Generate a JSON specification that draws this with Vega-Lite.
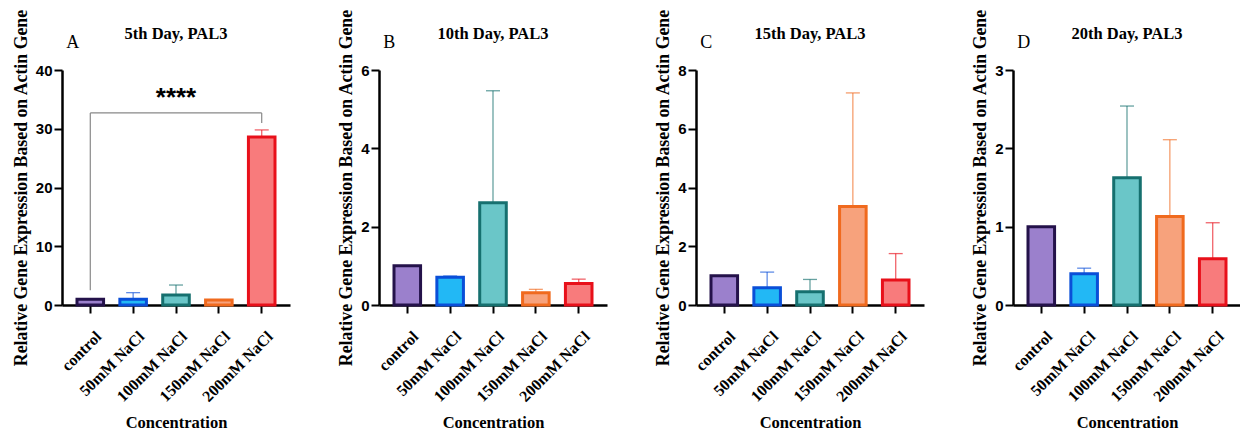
{
  "$schema": "https://vega.github.io/schema/vega-lite/v6.json",
  "background": "white",
  "padding": {"left": 12, "top": 8, "right": 2, "bottom": 2},
  "spacing": 47,
  "datasets": {
    "bars": [
      {"panel": "A", "conc": "control", "value": 1.0, "upper": null},
      {"panel": "A", "conc": "50mM NaCl", "value": 1.0, "upper": 2.1},
      {"panel": "A", "conc": "100mM NaCl", "value": 1.7, "upper": 3.4},
      {"panel": "A", "conc": "150mM NaCl", "value": 0.85, "upper": null},
      {"panel": "A", "conc": "200mM NaCl", "value": 28.6, "upper": 29.8},
      {"panel": "B", "conc": "control", "value": 1.0, "upper": null},
      {"panel": "B", "conc": "50mM NaCl", "value": 0.71, "upper": 0.74},
      {"panel": "B", "conc": "100mM NaCl", "value": 2.61, "upper": 5.47},
      {"panel": "B", "conc": "150mM NaCl", "value": 0.31, "upper": 0.4},
      {"panel": "B", "conc": "200mM NaCl", "value": 0.55, "upper": 0.66},
      {"panel": "C", "conc": "control", "value": 1.0, "upper": null},
      {"panel": "C", "conc": "50mM NaCl", "value": 0.59, "upper": 1.12},
      {"panel": "C", "conc": "100mM NaCl", "value": 0.45, "upper": 0.87},
      {"panel": "C", "conc": "150mM NaCl", "value": 3.35, "upper": 7.22},
      {"panel": "C", "conc": "200mM NaCl", "value": 0.85, "upper": 1.75},
      {"panel": "D", "conc": "control", "value": 1.0, "upper": null},
      {"panel": "D", "conc": "50mM NaCl", "value": 0.4, "upper": 0.47},
      {"panel": "D", "conc": "100mM NaCl", "value": 1.625, "upper": 2.54},
      {"panel": "D", "conc": "150mM NaCl", "value": 1.13, "upper": 2.11},
      {"panel": "D", "conc": "200mM NaCl", "value": 0.59, "upper": 1.05}
    ],
    "bracket": [
      {"x1": "control", "x2": "control", "y1": 2.5, "y2": 32.7},
      {"x1": "control", "x2": "200mM NaCl", "y1": 32.7, "y2": 32.7},
      {"x1": "200mM NaCl", "x2": "200mM NaCl", "y1": 31.0, "y2": 32.7}
    ],
    "signif": [
      {"conc": "100mM NaCl", "y": 35.2, "label": "****"}
    ]
  },
  "config": {
    "view": {"stroke": null},
    "font": "Liberation Serif",
    "title": {"font": "Liberation Serif", "fontWeight": "bold", "fontSize": 16.5, "color": "black", "offset": -34},
    "axis": {
      "grid": false,
      "domainColor": "black",
      "domainWidth": 2.5,
      "tickColor": "black",
      "tickWidth": 2,
      "tickSize": 8,
      "labelColor": "black",
      "titleColor": "black",
      "titleFont": "Liberation Serif",
      "titleFontWeight": "bold"
    },
    "axisX": {
      "labelFont": "Liberation Serif",
      "labelFontWeight": "bold",
      "labelFontSize": 16,
      "labelAngle": -45,
      "labelPadding": 15,
      "labelOffset": 3,
      "titleFontSize": 16.5,
      "titlePadding": 10
    },
    "axisY": {
      "labelFont": "Liberation Sans",
      "labelFontWeight": "bold",
      "labelFontSize": 15,
      "labelPadding": 2,
      "titleFontSize": 17.8,
      "titlePadding": 5
    },
    "scale": {"bandPaddingInner": 0.38, "bandPaddingOuter": 0.35}
  },
  "hconcat": [
    {
      "width": 228, "height": 235,
      "title": "5th Day, PAL3",
      "encoding": {
        "x": {"field": "conc", "type": "nominal", "scale": {"domain": ["control", "50mM NaCl", "100mM NaCl", "150mM NaCl", "200mM NaCl"]}, "title": "Concentration"},
        "y": {"type": "quantitative", "scale": {"domain": [0, 40], "nice": false}, "axis": {"values": [0, 10, 20, 30, 40]}, "title": "Relative Gene Expression Based on Actin Gene"}
      },
      "layer": [
        {
          "data": {"name": "bars"},
          "transform": [{"filter": "datum.panel === 'A' && datum.upper != null"}],
          "mark": {"type": "rule", "strokeWidth": 1.3, "strokeOpacity": 0.65},
          "encoding": {
            "y": {"field": "value", "type": "quantitative"},
            "y2": {"field": "upper"},
            "stroke": {"field": "conc", "type": "nominal", "scale": {"domain": ["control", "50mM NaCl", "100mM NaCl", "150mM NaCl", "200mM NaCl"], "range": ["#24124a", "#0a4fd8", "#16706f", "#f06a1e", "#e8101a"]}, "legend": null}
          }
        },
        {
          "data": {"name": "bars"},
          "transform": [{"filter": "datum.panel === 'A' && datum.upper != null"}],
          "mark": {"type": "tick", "size": 14, "thickness": 1.3, "opacity": 0.65},
          "encoding": {
            "y": {"field": "upper", "type": "quantitative"},
            "color": {"field": "conc", "type": "nominal", "scale": {"domain": ["control", "50mM NaCl", "100mM NaCl", "150mM NaCl", "200mM NaCl"], "range": ["#24124a", "#0a4fd8", "#16706f", "#f06a1e", "#e8101a"]}, "legend": null}
          }
        },
        {
          "data": {"name": "bars"},
          "transform": [{"filter": "datum.panel === 'A'"}],
          "mark": {"type": "bar", "strokeWidth": 3},
          "encoding": {
            "y": {"field": "value", "type": "quantitative"},
            "fill": {"field": "conc", "type": "nominal", "scale": {"domain": ["control", "50mM NaCl", "100mM NaCl", "150mM NaCl", "200mM NaCl"], "range": ["#9b80cc", "#22b8f5", "#6ac6c8", "#f7a27c", "#f87b7c"]}, "legend": null},
            "stroke": {"field": "conc", "type": "nominal", "legend": null}
          }
        },
        {
          "data": {"name": "bracket"},
          "mark": {"type": "rule", "color": "#888888", "strokeWidth": 1.2},
          "encoding": {
            "x": {"field": "x1", "type": "nominal"},
            "x2": {"field": "x2"},
            "y": {"field": "y1", "type": "quantitative"},
            "y2": {"field": "y2"}
          }
        },
        {
          "data": {"name": "signif"},
          "mark": {"type": "text", "font": "Liberation Sans", "fontWeight": "bold", "fontSize": 26, "baseline": "middle"},
          "encoding": {
            "x": {"field": "conc", "type": "nominal"},
            "y": {"field": "y", "type": "quantitative"},
            "text": {"field": "label"}
          }
        },
        {
          "data": {"name": "bars"},
          "transform": [{"filter": "datum.panel === 'A' && datum.conc === 'control'"}],
          "mark": {"type": "text", "font": "Liberation Serif", "fontSize": 18, "align": "left", "baseline": "middle", "dx": -24, "dy": -27},
          "encoding": {
            "x": {"field": "conc", "type": "nominal"},
            "y": {"datum": 40},
            "text": {"field": "panel"}
          }
        }
      ]
    },
    {
      "width": 228, "height": 235,
      "title": "10th Day, PAL3",
      "encoding": {
        "x": {"field": "conc", "type": "nominal", "scale": {"domain": ["control", "50mM NaCl", "100mM NaCl", "150mM NaCl", "200mM NaCl"]}, "title": "Concentration"},
        "y": {"type": "quantitative", "scale": {"domain": [0, 6], "nice": false}, "axis": {"values": [0, 2, 4, 6]}, "title": "Relative Gene Expression Based on Actin Gene"}
      },
      "layer": [
        {
          "data": {"name": "bars"},
          "transform": [{"filter": "datum.panel === 'B' && datum.upper != null"}],
          "mark": {"type": "rule", "strokeWidth": 1.3, "strokeOpacity": 0.65},
          "encoding": {
            "y": {"field": "value", "type": "quantitative"},
            "y2": {"field": "upper"},
            "stroke": {"field": "conc", "type": "nominal", "scale": {"domain": ["control", "50mM NaCl", "100mM NaCl", "150mM NaCl", "200mM NaCl"], "range": ["#24124a", "#0a4fd8", "#16706f", "#f06a1e", "#e8101a"]}, "legend": null}
          }
        },
        {
          "data": {"name": "bars"},
          "transform": [{"filter": "datum.panel === 'B' && datum.upper != null"}],
          "mark": {"type": "tick", "size": 14, "thickness": 1.3, "opacity": 0.65},
          "encoding": {
            "y": {"field": "upper", "type": "quantitative"},
            "color": {"field": "conc", "type": "nominal", "scale": {"domain": ["control", "50mM NaCl", "100mM NaCl", "150mM NaCl", "200mM NaCl"], "range": ["#24124a", "#0a4fd8", "#16706f", "#f06a1e", "#e8101a"]}, "legend": null}
          }
        },
        {
          "data": {"name": "bars"},
          "transform": [{"filter": "datum.panel === 'B'"}],
          "mark": {"type": "bar", "strokeWidth": 3},
          "encoding": {
            "y": {"field": "value", "type": "quantitative"},
            "fill": {"field": "conc", "type": "nominal", "scale": {"domain": ["control", "50mM NaCl", "100mM NaCl", "150mM NaCl", "200mM NaCl"], "range": ["#9b80cc", "#22b8f5", "#6ac6c8", "#f7a27c", "#f87b7c"]}, "legend": null},
            "stroke": {"field": "conc", "type": "nominal", "legend": null}
          }
        },
        {
          "data": {"name": "bars"},
          "transform": [{"filter": "datum.panel === 'B' && datum.conc === 'control'"}],
          "mark": {"type": "text", "font": "Liberation Serif", "fontSize": 18, "align": "left", "baseline": "middle", "dx": -24, "dy": -27},
          "encoding": {
            "x": {"field": "conc", "type": "nominal"},
            "y": {"datum": 6},
            "text": {"field": "panel"}
          }
        }
      ]
    },
    {
      "width": 228, "height": 235,
      "title": "15th Day, PAL3",
      "encoding": {
        "x": {"field": "conc", "type": "nominal", "scale": {"domain": ["control", "50mM NaCl", "100mM NaCl", "150mM NaCl", "200mM NaCl"]}, "title": "Concentration"},
        "y": {"type": "quantitative", "scale": {"domain": [0, 8], "nice": false}, "axis": {"values": [0, 2, 4, 6, 8]}, "title": "Relative Gene Expression Based on Actin Gene"}
      },
      "layer": [
        {
          "data": {"name": "bars"},
          "transform": [{"filter": "datum.panel === 'C' && datum.upper != null"}],
          "mark": {"type": "rule", "strokeWidth": 1.3, "strokeOpacity": 0.65},
          "encoding": {
            "y": {"field": "value", "type": "quantitative"},
            "y2": {"field": "upper"},
            "stroke": {"field": "conc", "type": "nominal", "scale": {"domain": ["control", "50mM NaCl", "100mM NaCl", "150mM NaCl", "200mM NaCl"], "range": ["#24124a", "#0a4fd8", "#16706f", "#f06a1e", "#e8101a"]}, "legend": null}
          }
        },
        {
          "data": {"name": "bars"},
          "transform": [{"filter": "datum.panel === 'C' && datum.upper != null"}],
          "mark": {"type": "tick", "size": 14, "thickness": 1.3, "opacity": 0.65},
          "encoding": {
            "y": {"field": "upper", "type": "quantitative"},
            "color": {"field": "conc", "type": "nominal", "scale": {"domain": ["control", "50mM NaCl", "100mM NaCl", "150mM NaCl", "200mM NaCl"], "range": ["#24124a", "#0a4fd8", "#16706f", "#f06a1e", "#e8101a"]}, "legend": null}
          }
        },
        {
          "data": {"name": "bars"},
          "transform": [{"filter": "datum.panel === 'C'"}],
          "mark": {"type": "bar", "strokeWidth": 3},
          "encoding": {
            "y": {"field": "value", "type": "quantitative"},
            "fill": {"field": "conc", "type": "nominal", "scale": {"domain": ["control", "50mM NaCl", "100mM NaCl", "150mM NaCl", "200mM NaCl"], "range": ["#9b80cc", "#22b8f5", "#6ac6c8", "#f7a27c", "#f87b7c"]}, "legend": null},
            "stroke": {"field": "conc", "type": "nominal", "legend": null}
          }
        },
        {
          "data": {"name": "bars"},
          "transform": [{"filter": "datum.panel === 'C' && datum.conc === 'control'"}],
          "mark": {"type": "text", "font": "Liberation Serif", "fontSize": 18, "align": "left", "baseline": "middle", "dx": -24, "dy": -27},
          "encoding": {
            "x": {"field": "conc", "type": "nominal"},
            "y": {"datum": 8},
            "text": {"field": "panel"}
          }
        }
      ]
    },
    {
      "width": 228, "height": 235,
      "title": "20th Day, PAL3",
      "encoding": {
        "x": {"field": "conc", "type": "nominal", "scale": {"domain": ["control", "50mM NaCl", "100mM NaCl", "150mM NaCl", "200mM NaCl"]}, "title": "Concentration"},
        "y": {"type": "quantitative", "scale": {"domain": [0, 3], "nice": false}, "axis": {"values": [0, 1, 2, 3]}, "title": "Relative Gene Expression Based on Actin Gene"}
      },
      "layer": [
        {
          "data": {"name": "bars"},
          "transform": [{"filter": "datum.panel === 'D' && datum.upper != null"}],
          "mark": {"type": "rule", "strokeWidth": 1.3, "strokeOpacity": 0.65},
          "encoding": {
            "y": {"field": "value", "type": "quantitative"},
            "y2": {"field": "upper"},
            "stroke": {"field": "conc", "type": "nominal", "scale": {"domain": ["control", "50mM NaCl", "100mM NaCl", "150mM NaCl", "200mM NaCl"], "range": ["#24124a", "#0a4fd8", "#16706f", "#f06a1e", "#e8101a"]}, "legend": null}
          }
        },
        {
          "data": {"name": "bars"},
          "transform": [{"filter": "datum.panel === 'D' && datum.upper != null"}],
          "mark": {"type": "tick", "size": 14, "thickness": 1.3, "opacity": 0.65},
          "encoding": {
            "y": {"field": "upper", "type": "quantitative"},
            "color": {"field": "conc", "type": "nominal", "scale": {"domain": ["control", "50mM NaCl", "100mM NaCl", "150mM NaCl", "200mM NaCl"], "range": ["#24124a", "#0a4fd8", "#16706f", "#f06a1e", "#e8101a"]}, "legend": null}
          }
        },
        {
          "data": {"name": "bars"},
          "transform": [{"filter": "datum.panel === 'D'"}],
          "mark": {"type": "bar", "strokeWidth": 3},
          "encoding": {
            "y": {"field": "value", "type": "quantitative"},
            "fill": {"field": "conc", "type": "nominal", "scale": {"domain": ["control", "50mM NaCl", "100mM NaCl", "150mM NaCl", "200mM NaCl"], "range": ["#9b80cc", "#22b8f5", "#6ac6c8", "#f7a27c", "#f87b7c"]}, "legend": null},
            "stroke": {"field": "conc", "type": "nominal", "legend": null}
          }
        },
        {
          "data": {"name": "bars"},
          "transform": [{"filter": "datum.panel === 'D' && datum.conc === 'control'"}],
          "mark": {"type": "text", "font": "Liberation Serif", "fontSize": 18, "align": "left", "baseline": "middle", "dx": -24, "dy": -27},
          "encoding": {
            "x": {"field": "conc", "type": "nominal"},
            "y": {"datum": 3},
            "text": {"field": "panel"}
          }
        }
      ]
    }
  ]
}
